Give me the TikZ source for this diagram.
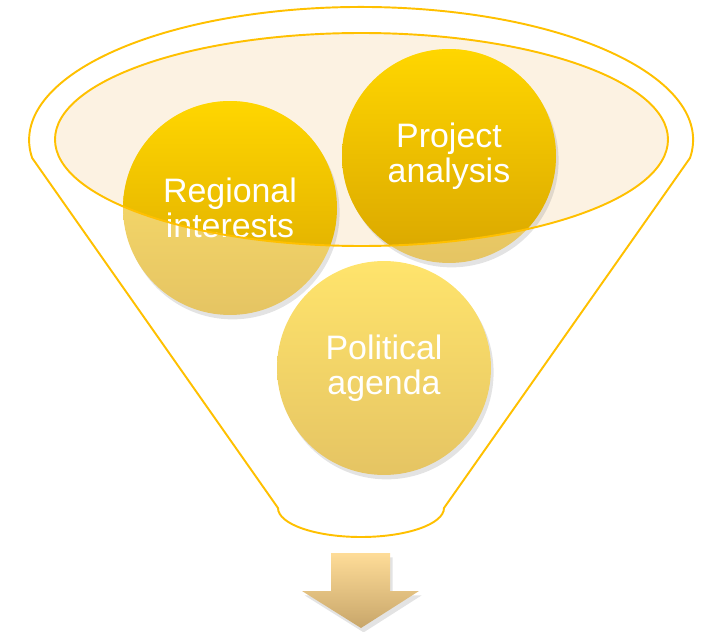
\documentclass[tikz,border=0pt]{standalone}
\usepackage{fontspec}
\setmainfont{Liberation Sans}
\usetikzlibrary{shadows}

\definecolor{rimgold}{HTML}{FFC000}
\definecolor{cream}{HTML}{FCF2E2}
\definecolor{goldtop}{HTML}{FFD600}
\definecolor{goldbottom}{HTML}{D9A600}
\definecolor{paletop}{HTML}{FFE46C}
\definecolor{palebottom}{HTML}{E5C463}
\definecolor{arrowtop}{HTML}{FEDC98}
\definecolor{arrowbottom}{HTML}{C8A66A}

\begin{document}
\begin{tikzpicture}[x=0.02cm, y=-0.02cm,
    rim/.style={draw=rimgold, line width=1.1pt},
    bubble/.style={circle, minimum size=4.28cm, inner sep=0pt,
      top color=paletop, bottom color=palebottom,
      drop shadow={shadow xshift=1.5pt, shadow yshift=-2.5pt, opacity=0.22}},
    caption/.style={align=center, text=white, inner sep=0pt,
      font=\fontsize{19.3}{19.9}\selectfont},
    arrowbody/.style={top color=arrowtop, bottom color=arrowbottom,
      drop shadow={shadow xshift=1.5pt, shadow yshift=-2.5pt, opacity=0.22}}]
   \useasboundingbox (0,0) rectangle (701,632);

   % funnel
   \draw[rim] (278,508) arc[start angle=180, end angle=0, x radius=83, y radius=29]
      -- (690,158) arc[start angle=7.8, end angle=-187.8, x radius=332, y radius=133]
      -- cycle;
   \fill[cream] (361.5,139.5) ellipse [x radius=306.5, y radius=106.5];

   \node[bubble] (reg)  at (230,208) {};
   \node[bubble] (proj) at (449,156) {};
   \node[bubble] (pol)  at (384,368) {};

   \begin{scope}
     \clip (361.5,139.5) ellipse [x radius=306.5, y radius=106.5];
     \shade[top color=goldtop, bottom color=goldbottom] (reg.center) circle [radius=107];
     \shade[top color=goldtop, bottom color=goldbottom] (proj.center) circle [radius=107];
   \end{scope}

   \node[caption] (regtext)  at (reg)  {Regional\\interests};
   \node[caption] (projtext) at (proj) {Project\\analysis};
   \node[caption] (poltext)  at (pol)  {Political\\agenda};

   \draw[rim] (361.5,139.5) ellipse [x radius=306.5, y radius=106.5];

   \path[arrowbody] (331,553) -- (390,553) -- (390,591) -- (419,591)
      -- (361,628) -- (302,591) -- (331,591) -- cycle;
 \end{tikzpicture}
\end{document}
